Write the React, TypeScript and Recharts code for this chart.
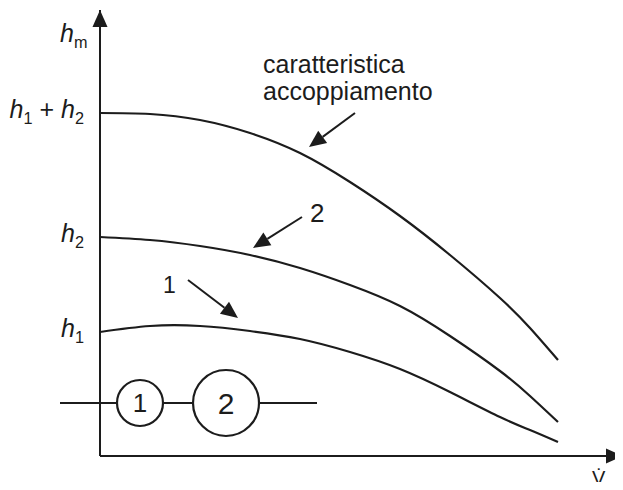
import { LineChart, Line, XAxis, YAxis, ReferenceLine, ReferenceDot } from 'recharts'

// flow rate (x) and head (y) in chart units
const flow = [0, 50, 100, 150, 200, 250, 300, 350, 400, 430, 458]
const headCoupled = [343, 342, 336, 323, 303, 274, 240, 201, 158, 128, 96]
const headPump2 = [219, 216, 210, 201, 188, 171, 150, 120, 85, 60, 34]
const headPump1 = [124, 130, 130, 125, 117, 104, 87, 64, 39, 26, 14]

const yTicks = [124, 219, 343]
const yTickLabels = [
  [{ t: 'h', it: true }, { t: '1', sub: true }],
  [{ t: 'h', it: true }, { t: '2', sub: true }],
  [{ t: 'h', it: true }, { t: '1', sub: true }, { t: ' + ' }, { t: 'h', it: true }, { t: '2', sub: true }],
]

// annotation arrows: [x1, y1, x2, y2] (tip at x2, y2)
const arrows = [
  [255, 343, 209, 309],
  [202, 239, 153, 208],
  [88, 176, 138, 138],
]

const INK = '#1c1c1c'
const FONT = '"Liberation Sans", Arial, sans-serif'

const rows = flow.map((q, i) => ({
  q,
  coupled: headCoupled[i],
  p2: headPump2[i],
  p1: headPump1[i],
}))

type Part = { t: string; it?: boolean; sub?: boolean }

function Parts({ parts, size }: { parts: Part[]; size: number }) {
  let shifted = false
  return (
    <>
      {parts.map((p, i) => {
        let dy = 0
        if (p.sub && !shifted) { dy = 6; shifted = true }
        else if (!p.sub && shifted) { dy = -6; shifted = false }
        return (
          <tspan key={i} dy={dy} fontStyle={p.it ? 'italic' : 'normal'} fontSize={p.sub ? size * 0.65 : size}>
            {p.t}
          </tspan>
        )
      })}
    </>
  )
}

function HeadTick(props: any) {
  const { x, y, payload } = props
  const idx = yTicks.indexOf(payload.value)
  if (idx < 0) return null
  return (
    <text x={x} y={y + 5} textAnchor="end" fill={INK} fontFamily={FONT} fontSize={25}>
      <Parts parts={yTickLabels[idx] as Part[]} size={25} />
    </text>
  )
}

function ArrowShape(props: any) {
  const { x1, y1, x2, y2 } = props
  if (x1 == null) return null
  const ang = Math.atan2(y2 - y1, x2 - x1)
  const len = 17, half = 7.5
  const bx = x2 - len * Math.cos(ang), by = y2 - len * Math.sin(ang)
  const px = -Math.sin(ang) * half, py = Math.cos(ang) * half
  return (
    <g>
      <line x1={x1} y1={y1} x2={bx} y2={by} stroke={INK} strokeWidth={2} />
      <polygon points={`${x2},${y2} ${bx + px},${by + py} ${bx - px},${by - py}`} fill={INK} />
    </g>
  )
}

const textAt = (content: string, size: number, anchor: string = 'start') => (p: any) => (
  <text x={p.cx} y={p.cy} fontFamily={FONT} fontSize={size} fill={INK} textAnchor={anchor}>
    {content}
  </text>
)

const pump = (r: number, num: string, size: number) => (p: any) => (
  <g>
    <circle cx={p.cx} cy={p.cy} r={r} fill="#fff" stroke={INK} strokeWidth={2.2} />
    <text x={p.cx} y={p.cy + size * 0.36} textAnchor="middle" fontFamily={FONT} fontSize={size} fill={INK}>
      {num}
    </text>
  </g>
)

export default function App() {
  return (
    <div style={{ margin: -8, width: 623, height: 490, background: '#fff' }}>
      <LineChart width={623} height={490} data={rows} margin={{ top: 10, right: 0, bottom: 0, left: 0 }}>
        <XAxis
          type="number"
          dataKey="q"
          domain={[0, 523]}
          allowDataOverflow
          height={34}
          tick={false}
          tickLine={false}
          axisLine={{ stroke: INK, strokeWidth: 2 }}
        />
        <YAxis
          type="number"
          domain={[0, 446]}
          allowDataOverflow
          width={100}
          ticks={yTicks}
          interval={0}
          tickLine={false}
          tickSize={0}
          tickMargin={16}
          tick={<HeadTick />}
          axisLine={{ stroke: INK, strokeWidth: 2 }}
        />

        {/* axis arrow heads */}
        <ReferenceLine segment={[{ x: 0, y: 420 }, { x: 0, y: 446 }]} ifOverflow="visible" shape={ArrowShape} />
        <ReferenceLine segment={[{ x: 490, y: 0 }, { x: 523, y: 0 }]} ifOverflow="visible" shape={ArrowShape} />

        <Line type="natural" dataKey="coupled" stroke={INK} strokeWidth={2.2} dot={false} isAnimationActive={false} />
        <Line type="natural" dataKey="p2" stroke={INK} strokeWidth={2.2} dot={false} isAnimationActive={false} />
        <Line type="natural" dataKey="p1" stroke={INK} strokeWidth={2.2} dot={false} isAnimationActive={false} />

        {arrows.map((a, i) => (
          <ReferenceLine
            key={i}
            segment={[{ x: a[0], y: a[1] }, { x: a[2], y: a[3] }]}
            ifOverflow="visible"
            shape={ArrowShape}
          />
        ))}

        <ReferenceDot x={163} y={383} r={0} ifOverflow="visible" shape={textAt('caratteristica', 25)} />
        <ReferenceDot x={163} y={356} r={0} ifOverflow="visible" shape={textAt('accoppiamento', 25)} />
        <ReferenceDot x={210} y={234} r={0} ifOverflow="visible" shape={textAt('2', 26)} />
        <ReferenceDot x={63} y={163} r={0} ifOverflow="visible" shape={textAt('1', 23)} />

        {/* series connection sketch */}
        <ReferenceLine
          segment={[{ x: -40, y: 53 }, { x: 217, y: 53 }]}
          ifOverflow="visible"
          stroke={INK}
          strokeWidth={2}
        />
        <ReferenceDot x={40} y={53} r={23} ifOverflow="visible" shape={pump(23, '1', 26)} />
        <ReferenceDot x={126} y={53} r={33} ifOverflow="visible" shape={pump(33, '2', 30)} />

        {/* axis titles */}
        <ReferenceDot
          x={-40}
          y={414}
          r={0}
          ifOverflow="visible"
          shape={(p: any) => (
            <text x={p.cx} y={p.cy} fontFamily={FONT} fontSize={25} fill={INK}>
              <Parts parts={[{ t: 'h', it: true }, { t: 'm', sub: true }]} size={25} />
            </text>
          )}
        />
        <ReferenceDot x={492} y={-29} r={0} ifOverflow="visible" shape={textAt('V\u0307', 20)} />
      </LineChart>
    </div>
  )
}
